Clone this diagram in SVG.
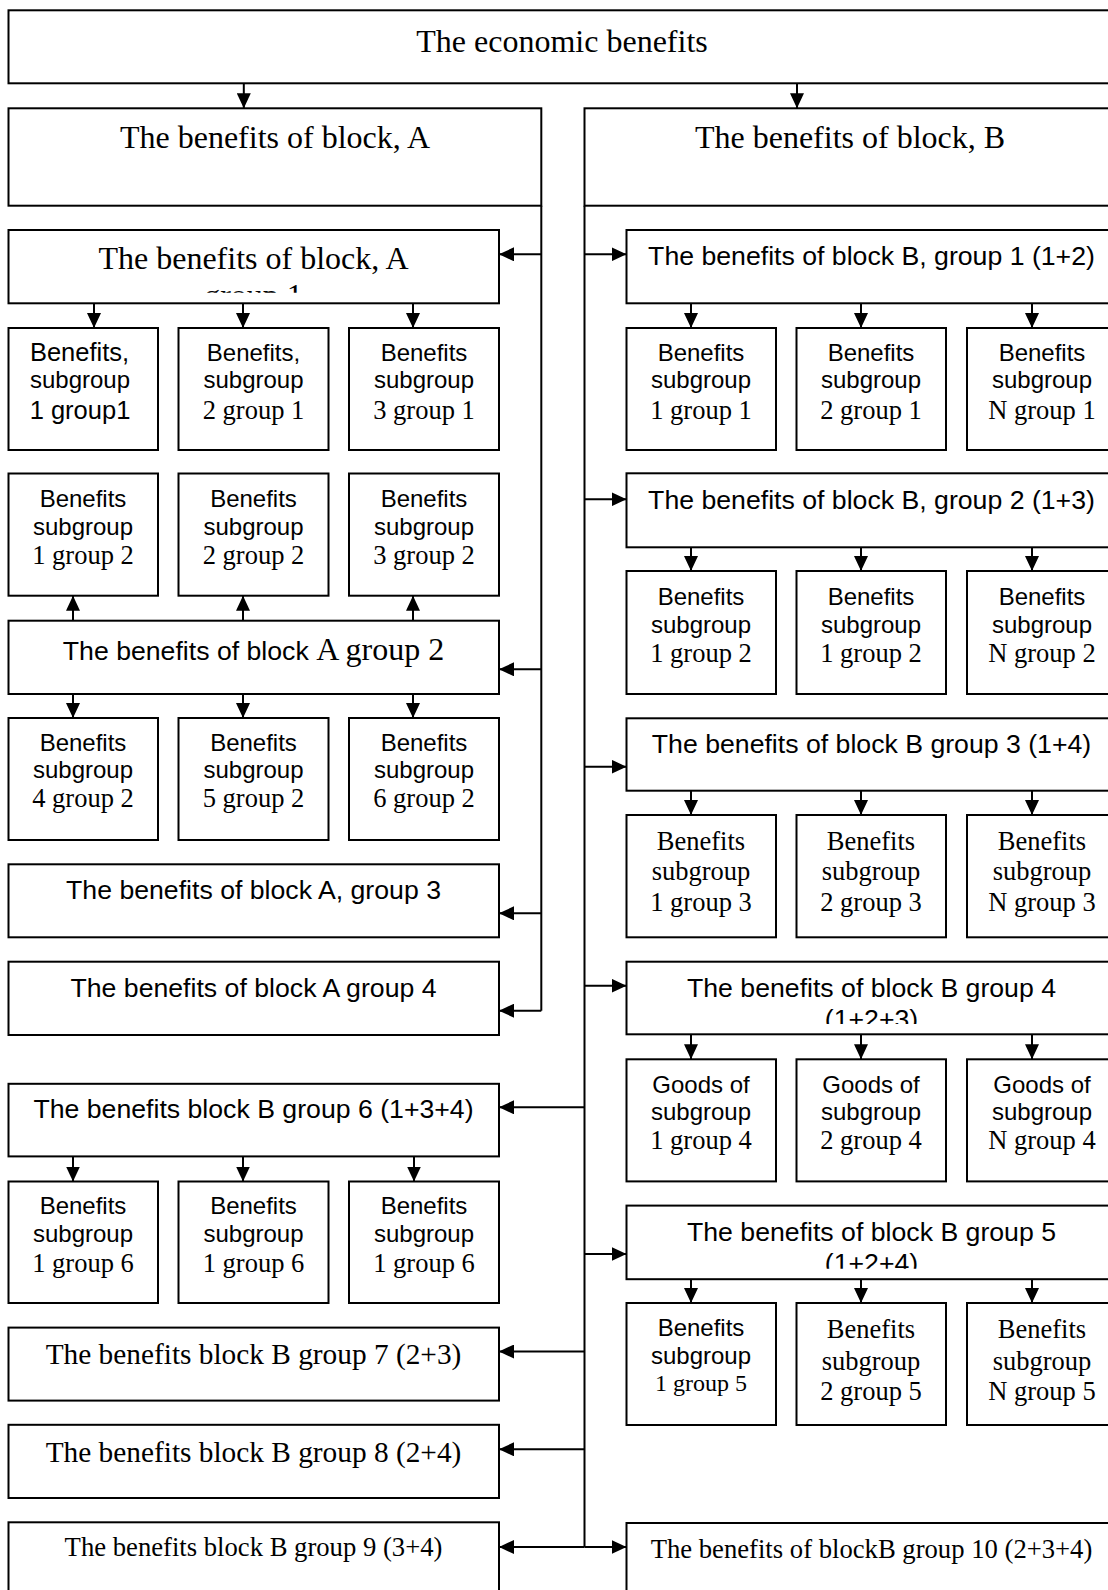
<svg xmlns="http://www.w3.org/2000/svg" width="1108" height="1590" viewBox="0 0 1108 1590">
<style>
.box{fill:#fff;stroke:#000;stroke-width:2}
.c{stroke:#000;stroke-width:2;fill:none;marker-end:url(#ah)}
.ln{stroke:#000;stroke-width:2;fill:none}
text{text-anchor:middle;fill:#000}
.s{font-family:"Liberation Sans",Arial,sans-serif}
.t{font-family:"Liberation Serif","Times New Roman",serif}
.sb{font-size:26.67px}
.tb{font-size:32px}
.t22{font-size:29.33px}
.t20{font-size:26.67px}
.ss{font-size:24px}
.ts{font-size:26.5px}
</style>
<defs>
<marker id="ah" markerUnits="userSpaceOnUse" markerWidth="15" markerHeight="14" refX="15" refY="7" orient="auto">
<path d="M0,0 L15,7 L0,14 Z" fill="#000"/>
</marker>
<clipPath id="clipA1"><rect x="8" y="230" width="491" height="62.7"/></clipPath>
<clipPath id="clipB4"><rect x="626" y="962" width="492" height="62"/></clipPath>
<clipPath id="clipB5"><rect x="626" y="1206" width="492" height="62.7"/></clipPath>
</defs>

<g id="connectors">
<path class="c" d="M243.8,83.3 V108.3"/>
<path class="c" d="M797,83.3 V108.3"/>
<path class="ln" d="M541.3,205.7 V1010.7"/>
<path class="ln" d="M584.5,205.7 V1547"/>
<path class="c" d="M541.3,254.3 H499"/>
<path class="c" d="M541.3,669.3 H499"/>
<path class="c" d="M541.3,913.3 H499"/>
<path class="c" d="M541.3,1010.7 H499"/>
<path class="c" d="M584.5,1107.3 H499"/>
<path class="c" d="M584.5,1351.5 H499"/>
<path class="c" d="M584.5,1449.3 H499"/>
<path class="c" d="M584.5,1547 H499"/>
<path class="c" d="M584.5,254.3 H626.5"/>
<path class="c" d="M584.5,499.3 H626.5"/>
<path class="c" d="M584.5,766.7 H626.5"/>
<path class="c" d="M584.5,985.7 H626.5"/>
<path class="c" d="M584.5,1254 H626.5"/>
<path class="c" d="M584.5,1547 H626.5"/>
<path class="c" d="M94,303.3 V328"/>
<path class="c" d="M243,303.3 V328"/>
<path class="c" d="M413,303.3 V328"/>
<path class="c" d="M73,620.7 V595.7"/>
<path class="c" d="M243,620.7 V595.7"/>
<path class="c" d="M413,620.7 V595.7"/>
<path class="c" d="M73,694 V718"/>
<path class="c" d="M243,694 V718"/>
<path class="c" d="M413,694 V718"/>
<path class="c" d="M73,1156.4 V1181.5"/>
<path class="c" d="M243,1156.4 V1181.5"/>
<path class="c" d="M414,1156.4 V1181.5"/>
<path class="c" d="M691,303.3 V328"/>
<path class="c" d="M861,303.3 V328"/>
<path class="c" d="M1032,303.3 V328"/>
<path class="c" d="M691,547.3 V571"/>
<path class="c" d="M861,547.3 V571"/>
<path class="c" d="M1032,547.3 V571"/>
<path class="c" d="M691,790.7 V815"/>
<path class="c" d="M861,790.7 V815"/>
<path class="c" d="M1032,790.7 V815"/>
<path class="c" d="M691,1034.3 V1059.3"/>
<path class="c" d="M861,1034.3 V1059.3"/>
<path class="c" d="M1032,1034.3 V1059.3"/>
<path class="c" d="M691,1279.2 V1303"/>
<path class="c" d="M861,1279.2 V1303"/>
<path class="c" d="M1032,1279.2 V1303"/>
</g>

<g id="economic">
<rect class="box" x="8.5" y="10.3" width="1110" height="73"/>
<text class="t tb" x="562" y="51.7">The economic benefits</text>
</g>
<g id="blockA">
<rect class="box" x="8.5" y="108.3" width="532.8" height="97.4"/>
<text class="t tb" x="275" y="148.3">The benefits of block, A</text>
</g>
<g id="blockB">
<rect class="box" x="584.5" y="108.3" width="534" height="97.4"/>
<text class="t tb" x="850" y="148.3">The benefits of block, B</text>
</g>

<g id="A1">
<rect class="box" x="8.5" y="230" width="490.5" height="73.3"/>
<text class="t tb" x="253.5" y="269">The benefits of block, A</text>
<text class="t tb" x="253.5" y="305.5" clip-path="url(#clipA1)">group 1</text>
</g>
<g id="A1s1">
<rect class="box" x="8.5" y="328" width="149.5" height="122"/>
<text class="s" style="font-size:25.5px" x="79.5" y="361">Benefits,</text>
<text class="s ss" x="80" y="388">subgroup</text>
<text class="s" style="font-size:25.5px" x="80" y="418.5">1 group1</text>
</g>
<g id="A1s2">
<rect class="box" x="178.5" y="328" width="150" height="122"/>
<text class="s ss" x="253.5" y="361">Benefits,</text>
<text class="s ss" x="253.5" y="388">subgroup</text>
<text class="t ts" x="253.5" y="418.5">2 group 1</text>
</g>
<g id="A1s3">
<rect class="box" x="349" y="328" width="150" height="122"/>
<text class="s ss" x="424" y="361">Benefits</text>
<text class="s ss" x="424" y="388">subgroup</text>
<text class="t ts" x="424" y="418.5">3 group 1</text>
</g>

<g id="A2s1">
<rect class="box" x="8.5" y="473.5" width="149.5" height="122.2"/>
<text class="s ss" x="83" y="506.7">Benefits</text>
<text class="s ss" x="83" y="535">subgroup</text>
<text class="t ts" x="83" y="564">1 group 2</text>
</g>
<g id="A2s2">
<rect class="box" x="178.5" y="473.5" width="150" height="122.2"/>
<text class="s ss" x="253.5" y="506.7">Benefits</text>
<text class="s ss" x="253.5" y="535">subgroup</text>
<text class="t ts" x="253.5" y="564">2 group 2</text>
</g>
<g id="A2s3">
<rect class="box" x="349" y="473.5" width="150" height="122.2"/>
<text class="s ss" x="424" y="506.7">Benefits</text>
<text class="s ss" x="424" y="535">subgroup</text>
<text class="t ts" x="424" y="564">3 group 2</text>
</g>

<g id="A2">
<rect class="box" x="8.5" y="620.7" width="490.5" height="73.3"/>
<text x="253.5" y="660"><tspan class="s sb">The benefits of block </tspan><tspan class="t tb">A group 2</tspan></text>
</g>
<g id="A2s4">
<rect class="box" x="8.5" y="718" width="149.5" height="122"/>
<text class="s ss" x="83" y="750.7">Benefits</text>
<text class="s ss" x="83" y="778">subgroup</text>
<text class="t ts" x="83" y="806.7">4 group 2</text>
</g>
<g id="A2s5">
<rect class="box" x="178.5" y="718" width="150" height="122"/>
<text class="s ss" x="253.5" y="750.7">Benefits</text>
<text class="s ss" x="253.5" y="778">subgroup</text>
<text class="t ts" x="253.5" y="806.7">5 group 2</text>
</g>
<g id="A2s6">
<rect class="box" x="349" y="718" width="150" height="122"/>
<text class="s ss" x="424" y="750.7">Benefits</text>
<text class="s ss" x="424" y="778">subgroup</text>
<text class="t ts" x="424" y="806.7">6 group 2</text>
</g>

<g id="A3">
<rect class="box" x="8.5" y="864.3" width="490.5" height="73"/>
<text class="s sb" x="253.5" y="899">The benefits of block A, group 3</text>
</g>
<g id="A4">
<rect class="box" x="8.5" y="961.7" width="490.5" height="73.3"/>
<text class="s sb" x="253.5" y="996.7">The benefits of block A group 4</text>
</g>

<g id="B6">
<rect class="box" x="8.5" y="1083.8" width="490.5" height="72.6"/>
<text class="s sb" x="253.5" y="1117.9">The benefits block B group 6 (1+3+4)</text>
</g>
<g id="B6s1">
<rect class="box" x="8.5" y="1181.5" width="149.5" height="121.5"/>
<text class="s ss" x="83" y="1213.6">Benefits</text>
<text class="s ss" x="83" y="1241.7">subgroup</text>
<text class="t ts" x="83" y="1271.5">1 group 6</text>
</g>
<g id="B6s2">
<rect class="box" x="178.5" y="1181.5" width="150" height="121.5"/>
<text class="s ss" x="253.5" y="1213.6">Benefits</text>
<text class="s ss" x="253.5" y="1241.7">subgroup</text>
<text class="t ts" x="253.5" y="1271.5">1 group 6</text>
</g>
<g id="B6s3">
<rect class="box" x="349" y="1181.5" width="150" height="121.5"/>
<text class="s ss" x="424" y="1213.6">Benefits</text>
<text class="s ss" x="424" y="1241.7">subgroup</text>
<text class="t ts" x="424" y="1271.5">1 group 6</text>
</g>

<g id="B7">
<rect class="box" x="8.5" y="1327.6" width="490.5" height="73"/>
<text class="t t22" x="253.5" y="1364.4">The benefits block B group 7 (2+3)</text>
</g>
<g id="B8">
<rect class="box" x="8.5" y="1424.8" width="490.5" height="73.2"/>
<text class="t t22" x="253.5" y="1462">The benefits block B group 8 (2+4)</text>
</g>
<g id="B9">
<rect class="box" x="8.5" y="1522.3" width="490.5" height="80"/>
<text class="t t20" x="253.5" y="1556.3">The benefits block B group 9 (3+4)</text>
</g>

<g id="B1">
<rect class="box" x="626.5" y="230" width="492" height="73.3"/>
<text class="s sb" x="871.5" y="265">The benefits of block B, group 1 (1+2)</text>
</g>
<g id="B1s1">
<rect class="box" x="626.5" y="328" width="149.5" height="122"/>
<text class="s ss" x="701" y="360.5">Benefits</text>
<text class="s ss" x="701" y="387.5">subgroup</text>
<text class="t ts" x="701" y="418.5">1 group 1</text>
</g>
<g id="B1s2">
<rect class="box" x="796.5" y="328" width="149.5" height="122"/>
<text class="s ss" x="871" y="360.5">Benefits</text>
<text class="s ss" x="871" y="387.5">subgroup</text>
<text class="t ts" x="871" y="418.5">2 group 1</text>
</g>
<g id="B1s3">
<rect class="box" x="967" y="328" width="149.5" height="122"/>
<text class="s ss" x="1042" y="360.5">Benefits</text>
<text class="s ss" x="1042" y="387.5">subgroup</text>
<text class="t ts" x="1042" y="418.5">N group 1</text>
</g>

<g id="B2">
<rect class="box" x="626.5" y="473.3" width="492" height="74"/>
<text class="s sb" x="871.5" y="509.3">The benefits of block B, group 2 (1+3)</text>
</g>
<g id="B2s1">
<rect class="box" x="626.5" y="571" width="149.5" height="123"/>
<text class="s ss" x="701" y="605">Benefits</text>
<text class="s ss" x="701" y="632.7">subgroup</text>
<text class="t ts" x="701" y="661.7">1 group 2</text>
</g>
<g id="B2s2">
<rect class="box" x="796.5" y="571" width="149.5" height="123"/>
<text class="s ss" x="871" y="605">Benefits</text>
<text class="s ss" x="871" y="632.7">subgroup</text>
<text class="t ts" x="871" y="661.7">1 group 2</text>
</g>
<g id="B2s3">
<rect class="box" x="967" y="571" width="149.5" height="123"/>
<text class="s ss" x="1042" y="605">Benefits</text>
<text class="s ss" x="1042" y="632.7">subgroup</text>
<text class="t ts" x="1042" y="661.7">N group 2</text>
</g>

<g id="B3">
<rect class="box" x="626.5" y="718.3" width="492" height="72.4"/>
<text class="s sb" x="871.5" y="752.7">The benefits of block B group 3 (1+4)</text>
</g>
<g id="B3s1">
<rect class="box" x="626.5" y="815" width="149.5" height="122.3"/>
<text class="t ts" x="701" y="850">Benefits</text>
<text class="t ts" x="701" y="880">subgroup</text>
<text class="t ts" x="701" y="910.7">1 group 3</text>
</g>
<g id="B3s2">
<rect class="box" x="796.5" y="815" width="149.5" height="122.3"/>
<text class="t ts" x="871" y="850">Benefits</text>
<text class="t ts" x="871" y="880">subgroup</text>
<text class="t ts" x="871" y="910.7">2 group 3</text>
</g>
<g id="B3s3">
<rect class="box" x="967" y="815" width="149.5" height="122.3"/>
<text class="t ts" x="1042" y="850">Benefits</text>
<text class="t ts" x="1042" y="880">subgroup</text>
<text class="t ts" x="1042" y="910.7">N group 3</text>
</g>

<g id="B4">
<rect class="box" x="626.5" y="961.7" width="492" height="72.6"/>
<text class="s sb" x="871.5" y="996.7">The benefits of block B group 4</text>
<text class="s sb" x="871.5" y="1027.5" clip-path="url(#clipB4)">(1+2+3)</text>
</g>
<g id="B4s1">
<rect class="box" x="626.5" y="1059.3" width="149.5" height="122.1"/>
<text class="s ss" x="701" y="1092.6">Goods of</text>
<text class="s ss" x="701" y="1120">subgroup</text>
<text class="t ts" x="701" y="1149.4">1 group 4</text>
</g>
<g id="B4s2">
<rect class="box" x="796.5" y="1059.3" width="149.5" height="122.1"/>
<text class="s ss" x="871" y="1092.6">Goods of</text>
<text class="s ss" x="871" y="1120">subgroup</text>
<text class="t ts" x="871" y="1149.4">2 group 4</text>
</g>
<g id="B4s3">
<rect class="box" x="967" y="1059.3" width="149.5" height="122.1"/>
<text class="s ss" x="1042" y="1092.6">Goods of</text>
<text class="s ss" x="1042" y="1120">subgroup</text>
<text class="t ts" x="1042" y="1149.4">N group 4</text>
</g>

<g id="B5">
<rect class="box" x="626.5" y="1205.6" width="492" height="73.6"/>
<text class="s sb" x="871.5" y="1240.6">The benefits of block B group 5</text>
<text class="s sb" x="871.5" y="1271.5" clip-path="url(#clipB5)">(1+2+4)</text>
</g>
<g id="B5s1">
<rect class="box" x="626.5" y="1303" width="149.5" height="122"/>
<text class="s ss" x="701" y="1336.4">Benefits</text>
<text class="s ss" x="701" y="1364.4">subgroup</text>
<text class="t" style="font-size:24px" x="701" y="1390.7">1 group 5</text>
</g>
<g id="B5s2">
<rect class="box" x="796.5" y="1303" width="149.5" height="122"/>
<text class="t ts" x="871" y="1338">Benefits</text>
<text class="t ts" x="871" y="1369.7">subgroup</text>
<text class="t ts" x="871" y="1399.5">2 group 5</text>
</g>
<g id="B5s3">
<rect class="box" x="967" y="1303" width="149.5" height="122"/>
<text class="t ts" x="1042" y="1338">Benefits</text>
<text class="t ts" x="1042" y="1369.7">subgroup</text>
<text class="t ts" x="1042" y="1399.5">N group 5</text>
</g>

<g id="B10">
<rect class="box" x="626.5" y="1523" width="492" height="80"/>
<text class="t t20" x="871.5" y="1558.4">The benefits of blockB group 10 (2+3+4)</text>
</g>
</svg>
